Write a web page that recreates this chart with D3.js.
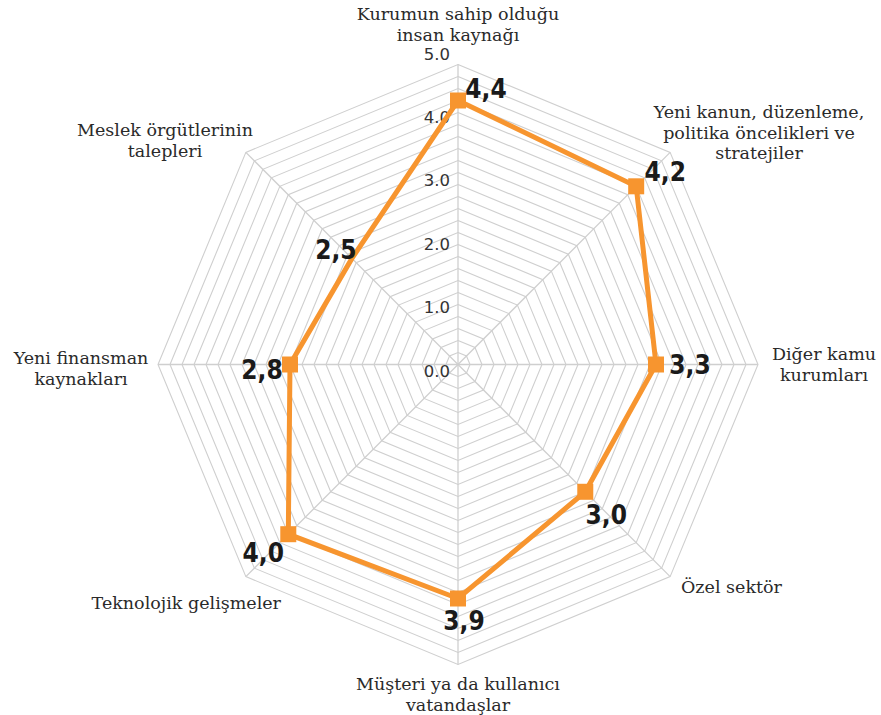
<!DOCTYPE html>
<meta charset="utf-8">
<style>
body,html{
  margin: 0;
  padding: 0;
  background: #fff;
}
.grid polygon {
  fill: none;
  stroke: #cfcfcf;
  stroke-width: 1.1;
}
.spokes line {
  stroke: #cfcfcf;
  stroke-width: 1.3;
}
.cat text {
  font-family: "DejaVu Serif", serif;
  font-size: 17.5px;
  fill: #2a2a2a;
}
.ticks text {
  font-family: "DejaVu Sans", sans-serif;
  font-size: 16.5px;
  fill: #333;
}
.vals text {
  font-family: "DejaVu Sans Condensed", "DejaVu Sans", sans-serif;
  font-stretch: condensed;
  font-weight: bold;
  font-size: 26px;
  fill: #1a1a1a;
}
</style>
<svg width="881" height="715"></svg>
<script src="https://d3js.org/d3.v7.min.js"></script>
<script>

var categories = [
  ["Kurumun sahip olduğu", "insan kaynağı"],
  ["Yeni kanun, düzenleme,", "politika öncelikleri ve", "stratejiler"],
  ["Diğer kamu", "kurumları"],
  ["Özel sektör"],
  ["Müşteri ya da kullanıcı", "vatandaşlar"],
  ["Teknolojik gelişmeler"],
  ["Yeni finansman", "kaynakları"],
  ["Meslek örgütlerinin", "talepleri"]
]
var values = [4.4, 4.2, 3.3, 3.0, 3.9, 4.0, 2.8, 2.5]
var valueLabels = ["4,4", "4,2", "3,3", "3,0", "3,9", "4,0", "2,8", "2,5"]
var showMarker = [true, true, true, true, true, true, true, false]
var tickValues = [0, 1, 2, 3, 4, 5]
var tickLabels = ["0.0", "1.0", "2.0", "3.0", "4.0", "5.0"]

var svg = d3.select("svg")
var cx = 458, cy = 364.5, R = 300
var n = categories.length

var r = d3.scaleLinear().domain([0, 5]).range([0, R])
var angle = d3.scaleLinear().domain([0, n]).range([0, 2 * Math.PI])

function px(i, v) { return cx + r(v) * Math.sin(angle(i)) }
function py(i, v) { return cy - r(v) * Math.cos(angle(i)) }

var g = svg.append("g")

// rings every 0.2
var levels = d3.range(1, 26).map(d => d * 0.2)
g.append("g").attr("class", "grid")
  .selectAll("polygon")
  .data(levels)
  .enter().append("polygon")
    .attr("points", lv => d3.range(n).map(i => px(i, lv) + "," + py(i, lv)).join(" "))

g.append("g").attr("class", "spokes")
  .selectAll("line")
  .data(d3.range(n))
  .enter().append("line")
    .attr("x1", cx).attr("y1", cy)
    .attr("x2", i => px(i, 5)).attr("y2", i => py(i, 5))

// tick labels sit a bit off the rings
var tickY = d3.scaleLinear().domain([0, 5]).range([372, 55])
g.append("g").attr("class", "ticks")
  .selectAll("text")
  .data(tickValues)
  .enter().append("text")
    .attr("x", 450)
    .attr("y", d => tickY(d))
    .attr("text-anchor", "end")
    .attr("dominant-baseline", "middle")
    .text((d, i) => tickLabels[i])

// series line
var line = d3.line().x(d => px(d.i, d.v)).y(d => py(d.i, d.v)).curve(d3.curveLinearClosed)
var pts = values.map((v, i) => ({i: i, v: v}))

g.append("path")
  .datum(pts)
  .attr("d", line)
  .attr("fill", "none")
  .attr("stroke", "#f7952f")
  .attr("stroke-width", 5)
  .attr("stroke-linejoin", "miter")

g.append("g")
  .selectAll("rect")
  .data(pts.filter(d => showMarker[d.i]))
  .enter().append("rect")
    .attr("x", d => px(d.i, d.v) - 8)
    .attr("y", d => py(d.i, d.v) - 8)
    .attr("width", 16).attr("height", 16)
    .attr("fill", "#f7952f")

// value labels, nudged per axis
var valOff = [[28, -12], [29, -14], [34, 0], [21, 23], [6, 22], [-25, 19], [-28, 5], [-16, -8]]
g.append("g").attr("class", "vals")
  .selectAll("text")
  .data(pts)
  .enter().append("text")
    .attr("x", d => px(d.i, d.v) + valOff[d.i][0])
    .attr("y", d => py(d.i, d.v) + valOff[d.i][1])
    .attr("text-anchor", "middle")
    .attr("dominant-baseline", "central")
    .text(d => valueLabels[d.i])

// category labels
var catPos = [
  {x: 458, y: 14, a: "middle"},
  {x: 759, y: 112, a: "middle"},
  {x: 824, y: 354, a: "middle"},
  {x: 681, y: 587, a: "start"},
  {x: 458, y: 684, a: "middle"},
  {x: 281, y: 603, a: "end"},
  {x: 81, y: 358, a: "middle"},
  {x: 165, y: 130, a: "middle"}
]
var cat = g.append("g").attr("class", "cat")
  .selectAll("text")
  .data(categories)
  .enter().append("text")
    .attr("x", (d, i) => catPos[i].x)
    .attr("y", (d, i) => catPos[i].y)
    .attr("text-anchor", (d, i) => catPos[i].a)
    .attr("dominant-baseline", "central")

cat.selectAll("tspan")
  .data((d, i) => d.map(s => ({s: s, i: i})))
  .enter().append("tspan")
    .attr("x", d => catPos[d.i].x)
    .attr("dy", (d, k) => k == 0 ? 0 : 20.5)
    .text(d => d.s)

</script>
